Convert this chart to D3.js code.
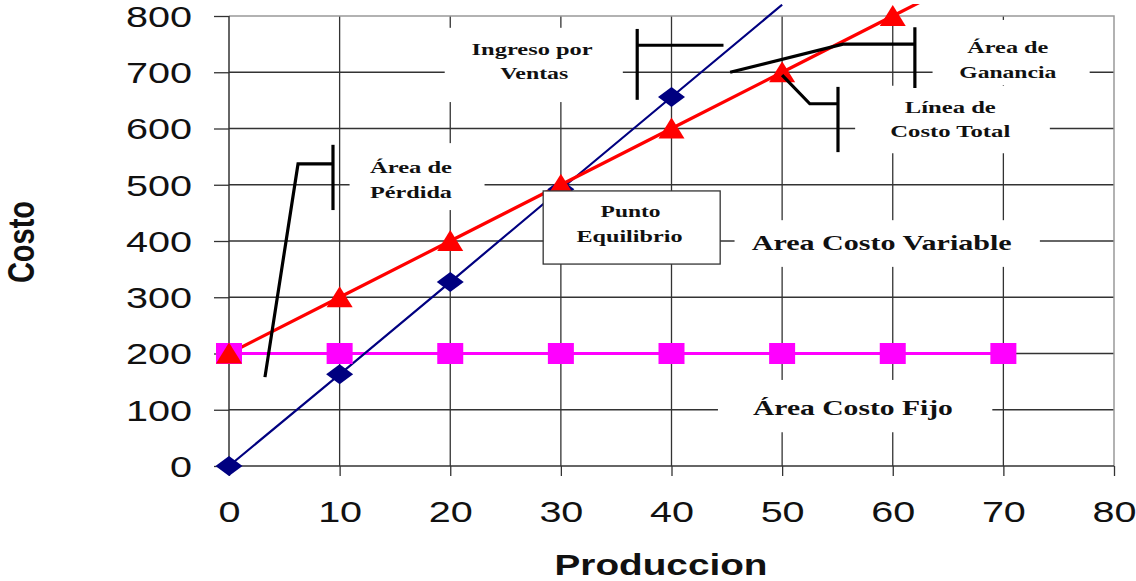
<!DOCTYPE html>
<html>
<head>
<meta charset="utf-8">
<script src="https://cdn.jsdelivr.net/npm/d3@7"></script>
<style>
  html, body { margin: 0; padding: 0; background: #fff; }
  svg { display: block; }
</style>
</head>
<body>
<svg id="chart" width="1136" height="581"></svg>
<script>
// ---------- data ----------
const xTicks = [0, 10, 20, 30, 40, 50, 60, 70, 80];
const yTicks = [0, 100, 200, 300, 400, 500, 600, 700, 800];

const costoFijoX = [0, 10, 20, 30, 40, 50, 60, 70];
const costoFijoY = [200, 200, 200, 200, 200, 200, 200, 200];

const ingresoX = [0, 10, 20, 30, 40, 50];
const ingresoY = [0, 163, 327, 492, 656, 820];

const costoTotalX = [0, 10, 20, 30, 40, 50, 60, 70];
const costoTotalY = [200, 300, 400, 500, 600, 700, 800, 900];

const xTitle = "Produccion";
const yTitle = "Costo";

// annotation texts (in data units)
const labels = [
  { t: "Ingreso por", x: 27.4, y: 731, w: 121, fs: 17 },
  { t: "Ventas", x: 27.6, y: 688, w: 68, fs: 17 },
  { t: "Área de", x: 70.4, y: 734, w: 81, fs: 17 },
  { t: "Ganancia", x: 70.4, y: 690, w: 97, fs: 17 },
  { t: "Línea de", x: 65.2, y: 628, w: 91, fs: 17 },
  { t: "Costo Total", x: 65.2, y: 585, w: 120, fs: 17 },
  { t: "Área de", x: 16.45, y: 521, w: 82, fs: 17 },
  { t: "Pérdida", x: 16.45, y: 476, w: 82, fs: 17 },
  { t: "Punto", x: 36.3, y: 443, w: 60, fs: 17 },
  { t: "Equilibrio", x: 36.2, y: 398, w: 106, fs: 17 },
  { t: "Area Costo Variable", x: 59.0, y: 384, w: 260, fs: 21 },
  { t: "Área Costo Fijo", x: 56.4, y: 91, w: 200, fs: 21 }
];
// white boxes covering grid (data units: x0,x1,y0,y1)
const whiteBoxes = [
  [19.5, 35.6, 647, 779],
  [63.6, 77.8, 677, 793],
  [56.6, 74.2, 556, 676],
  [10.9, 23.1, 455, 574],
  [45.7, 73.3, 354, 437],
  [44.2, 69.0, 60, 153]
];
const puntoBox = [28.4, 44.4, 359, 489];
// callout polylines (data units)
const callouts = [
  [[36.9, 651], [36.9, 777]],
  [[36.9, 748], [44.7, 748]],
  [[45.3, 700], [55.5, 750], [62.0, 750]],
  [[62.0, 780], [62.0, 672]],
  [[50.0, 695], [52.5, 644], [55.05, 644]],
  [[55.05, 674], [55.05, 558]],
  [[3.25, 158], [6.24, 537], [9.4, 537]],
  [[9.4, 571], [9.4, 455]]
];

// ---------- layout ----------
const svg = d3.select("#chart");
const x = d3.scaleLinear().domain([0, 80]).range([229, 1114]);
const y = d3.scaleLinear().domain([0, 800]).range([466, 16]);

// grid
const grid = svg.append("g");
grid.selectAll("line.v").data(xTicks.filter(d => d > 0 && d < 80)).join("line")
  .attr("x1", d => x(d)).attr("x2", d => x(d)).attr("y1", y(0)).attr("y2", y(800))
  .attr("stroke", "#333").attr("stroke-width", 1.3);
grid.selectAll("line.h").data(yTicks.filter(d => d > 0 && d < 800)).join("line")
  .attr("y1", d => y(d)).attr("y2", d => y(d)).attr("x1", x(0)).attr("x2", x(80))
  .attr("stroke", "#333").attr("stroke-width", 1.3);
// border top/right
svg.append("path")
  .attr("d", `M${x(0)},${y(800)}H${x(80)}V${y(0)}`)
  .attr("fill", "none").attr("stroke", "#999").attr("stroke-width", 1.5);

// white boxes
svg.append("g").selectAll("rect").data(whiteBoxes).join("rect")
  .attr("x", d => x(d[0])).attr("width", d => x(d[1]) - x(d[0]))
  .attr("y", d => y(d[3])).attr("height", d => y(d[2]) - y(d[3]))
  .attr("fill", "#fff");

// axes
const digitW = 22;
const yAxis = svg.append("g").attr("transform", `translate(${x(0)},0)`)
  .call(d3.axisLeft(y).tickValues(yTicks).tickSize(15).tickPadding(22).tickFormat(d3.format("d")));
const xAxis = svg.append("g").attr("transform", `translate(0,${y(0)})`)
  .call(d3.axisBottom(x).tickValues(xTicks).tickSize(10).tickPadding(25).tickFormat(d3.format("d")));
[yAxis, xAxis].forEach(a => {
  a.select(".domain").attr("stroke", "#333").attr("stroke-width", 1.5);
  a.selectAll(".tick line").attr("stroke", "#333").attr("stroke-width", 1.3);
  a.selectAll(".tick text")
    .attr("font-family", "Liberation Sans, Arial, sans-serif")
    .attr("font-size", 30).attr("fill", "#111")
    .attr("textLength", function() { return this.textContent.length * digitW; })
    .attr("lengthAdjust", "spacingAndGlyphs");
});
yAxis.selectAll(".tick text").attr("dy", "0.36em").attr("font-size", 29);
xAxis.select(".domain").attr("d", `M${x(0)},0H${x(80)}`);
yAxis.select(".domain").attr("d", `M0,${y(0)}V${y(800)}`);

// titles
svg.append("text").text(xTitle)
  .attr("x", x(39.05)).attr("y", 575)
  .attr("text-anchor", "middle")
  .attr("font-family", "Liberation Sans, Arial, sans-serif")
  .attr("font-weight", "bold").attr("font-size", 29)
  .attr("textLength", 213).attr("lengthAdjust", "spacingAndGlyphs")
  .attr("fill", "#111");
svg.append("text").text(yTitle)
  .attr("transform", `translate(34,${y(400) + 1}) scale(1.28,1) rotate(-90)`)
  .attr("text-anchor", "middle")
  .attr("font-family", "Liberation Sans, Arial, sans-serif")
  .attr("font-weight", "bold").attr("font-size", 29)
  .attr("fill", "#111");

// series
const clip = svg.append("clipPath").attr("id", "clipTop");
clip.append("rect").attr("x", 0).attr("y", 4).attr("width", 1136).attr("height", 577);

const line = d3.line().x(d => x(d[0])).y(d => y(d[1]));
const zip = (a, b) => a.map((v, i) => [v, b[i]]);
const series = [
  { name: "Costo Fijo", pts: zip(costoFijoX, costoFijoY), color: "#ff00ff", w: 3.2,
    shape: "M-13,-10.5H13V10.5H-13Z" },
  { name: "Ingreso por Ventas", pts: zip(ingresoX, ingresoY), color: "#000080", w: 2.2,
    shape: "M0,-10L13.5,0L0,10L-13.5,0Z" },
  { name: "Costo Total", pts: zip(costoTotalX, costoTotalY), color: "#ff0000", w: 3.2,
    shape: "M0,-11L13,10L-13,10Z" }
];
series.forEach(s => {
  svg.append("path").datum(s.pts).attr("d", line)
    .attr("fill", "none").attr("stroke", s.color).attr("stroke-width", s.w)
    .attr("clip-path", "url(#clipTop)");
});
series.forEach(s => {
  svg.append("g").selectAll("path").data(s.pts.filter(p => p[1] <= 800)).join("path")
    .attr("d", s.shape)
    .attr("transform", d => `translate(${x(d[0])},${y(d[1])})`)
    .attr("fill", s.color);
});

// punto equilibrio box
svg.append("rect")
  .attr("x", x(puntoBox[0])).attr("width", x(puntoBox[1]) - x(puntoBox[0]))
  .attr("y", y(puntoBox[3])).attr("height", y(puntoBox[2]) - y(puntoBox[3]))
  .attr("fill", "#fff").attr("stroke", "#333").attr("stroke-width", 1.3);

// callouts
svg.append("g").selectAll("path").data(callouts).join("path")
  .attr("d", d3.line().x(d => x(d[0])).y(d => y(d[1])))
  .attr("fill", "none").attr("stroke", "#000").attr("stroke-width", 3.2);

// labels
svg.append("g").selectAll("text").data(labels).join("text")
  .text(d => d.t)
  .attr("x", d => x(d.x)).attr("y", d => y(d.y))
  .attr("text-anchor", "middle")
  .attr("font-family", "Liberation Serif, Times New Roman, serif")
  .attr("font-weight", "bold")
  .attr("font-size", d => d.fs)
  .attr("textLength", d => d.w).attr("lengthAdjust", "spacingAndGlyphs")
  .attr("fill", "#111");
</script>
</body>
</html>
